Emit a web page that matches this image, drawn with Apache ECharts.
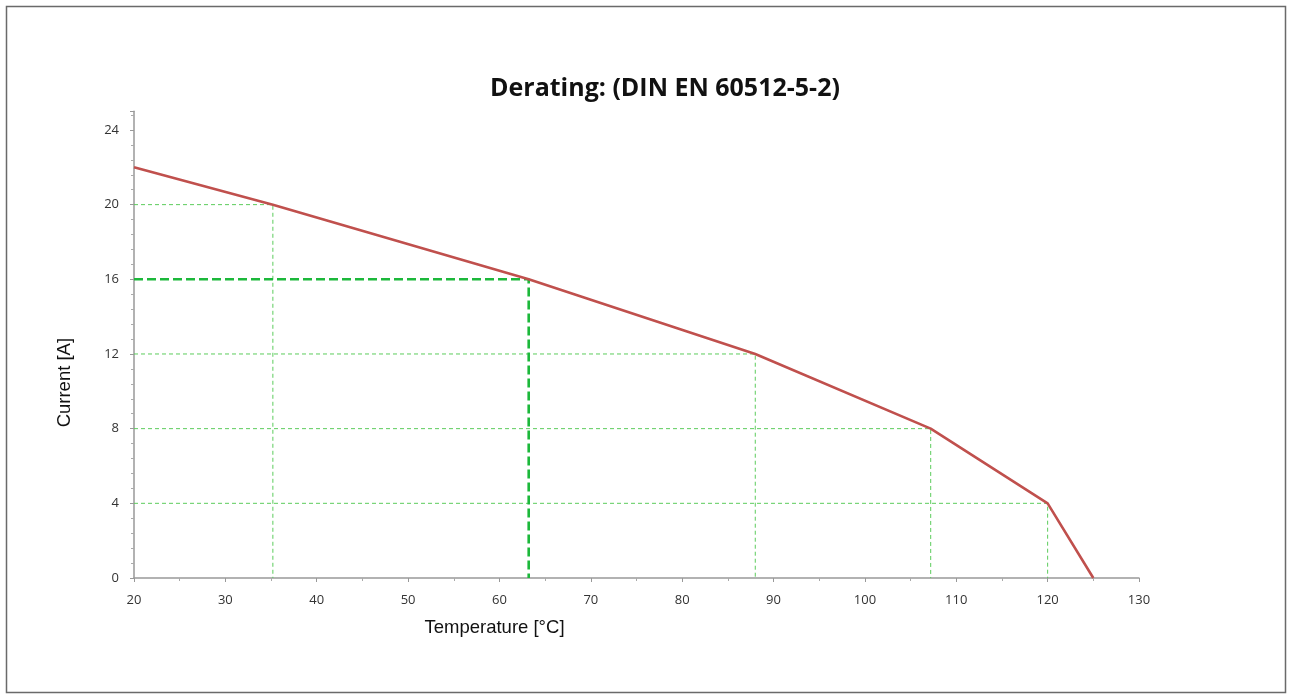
<!DOCTYPE html>
<html>
<head>
<meta charset="utf-8">
<script src="https://cdn.jsdelivr.net/npm/echarts@6/dist/echarts.min.js"></script>
<style>
html,body{margin:0;padding:0;background:#fff;}
#chart{width:1292px;height:699px;}
</style>
</head>
<body>
<div id="chart"></div>
<script>
// Derating curve: temperature [°C] vs current [A]
var curveTemps    = [20, 35.2, 63.2, 88.0, 107.2, 120.0, 125.0];
var curveCurrents = [22, 20,   16,   12,   8,     4,     0];
// Marked reference points (dashed guides)
var guideTemps    = [35.2, 63.2, 88.0, 107.2, 120.0];
var guideCurrents = [20,   16,   12,   8,     4];
var highlightCurrent = 16;
var xTicks = [20, 30, 40, 50, 60, 70, 80, 90, 100, 110, 120, 130];
var yTicks = [0, 4, 8, 12, 16, 20, 24];

var chart = echarts.init(document.getElementById('chart'));
var xMin = xTicks[0], xMax = xTicks[xTicks.length - 1];

var series = [];
guideTemps.forEach(function (t, i) {
  var c = guideCurrents[i];
  var strong = c === highlightCurrent;
  series.push({
    type: 'line',
    data: [[xMin, c], [t, c], [t, 0]],
    symbol: 'none',
    silent: true,
    z: strong ? 3 : 2,
    lineStyle: {
      color: strong ? '#1cb83b' : '#5ccc5c',
      width: strong ? 2.6 : 1,
      type: strong ? [9, 4] : [4, 3]
    }
  });
});
series.push({
  type: 'line',
  data: curveTemps.map(function (t, i) { return [t, curveCurrents[i]]; }),
  symbol: 'none',
  z: 5,
  lineStyle: { color: '#c0504d', width: 2.6 }
});

chart.setOption({
  backgroundColor: '#fff',
  animation: false,
  graphic: [{
    type: 'rect',
    shape: { x: 6.5, y: 6.5, width: 1279, height: 686 },
    style: { fill: 'none', stroke: '#6a6a6a', lineWidth: 1.5 },
    silent: true
  }],
  title: {
    text: 'Derating: (DIN EN 60512-5-2)',
    left: 485,
    top: 71,
    textStyle: { fontFamily: 'Open Sans', fontWeight: 'bold', fontSize: 25, color: '#111' }
  },
  grid: { left: 134, right: 153, top: 111.3, bottom: 121, containLabel: false },
  xAxis: {
    type: 'value',
    min: xMin, max: xMax, interval: 10,
    name: 'Temperature [°C]',
    nameLocation: 'middle',
    nameGap: 40,
    nameTextStyle: { fontFamily: 'Liberation Sans', fontSize: 18.5, color: '#111', padding: [0, 0, 0, -284] },
    axisLine: { lineStyle: { color: '#999', width: 1.5 } },
    axisTick: { show: true, length: 4, lineStyle: { color: '#999' } },
    minorTick: { show: true, splitNumber: 2, length: 3, lineStyle: { color: '#aaa' } },
    axisLabel: { fontFamily: 'Open Sans', fontSize: 13, color: '#333', margin: 16 },
    splitLine: { show: false }
  },
  yAxis: {
    type: 'value',
    min: 0, max: 25, interval: 4,
    name: 'Current [A]',
    nameLocation: 'middle',
    nameRotate: 90,
    nameGap: 60,
    nameTextStyle: { fontFamily: 'Liberation Sans', fontSize: 18.5, color: '#111', padding: [0, 0, 0, -76] },
    axisLine: { show: true, lineStyle: { color: '#999', width: 1.5 } },
    axisTick: { show: true, length: 4, lineStyle: { color: '#999' } },
    minorTick: { show: true, splitNumber: 5, length: 3, lineStyle: { color: '#aaa' } },
    axisLabel: { fontFamily: 'Open Sans', fontSize: 13, color: '#333', margin: 15,
      formatter: function (v) { return yTicks.indexOf(v) >= 0 ? String(v) : ''; } },
    splitLine: { show: false }
  },
  series: series
});
</script>
</body>
</html>
